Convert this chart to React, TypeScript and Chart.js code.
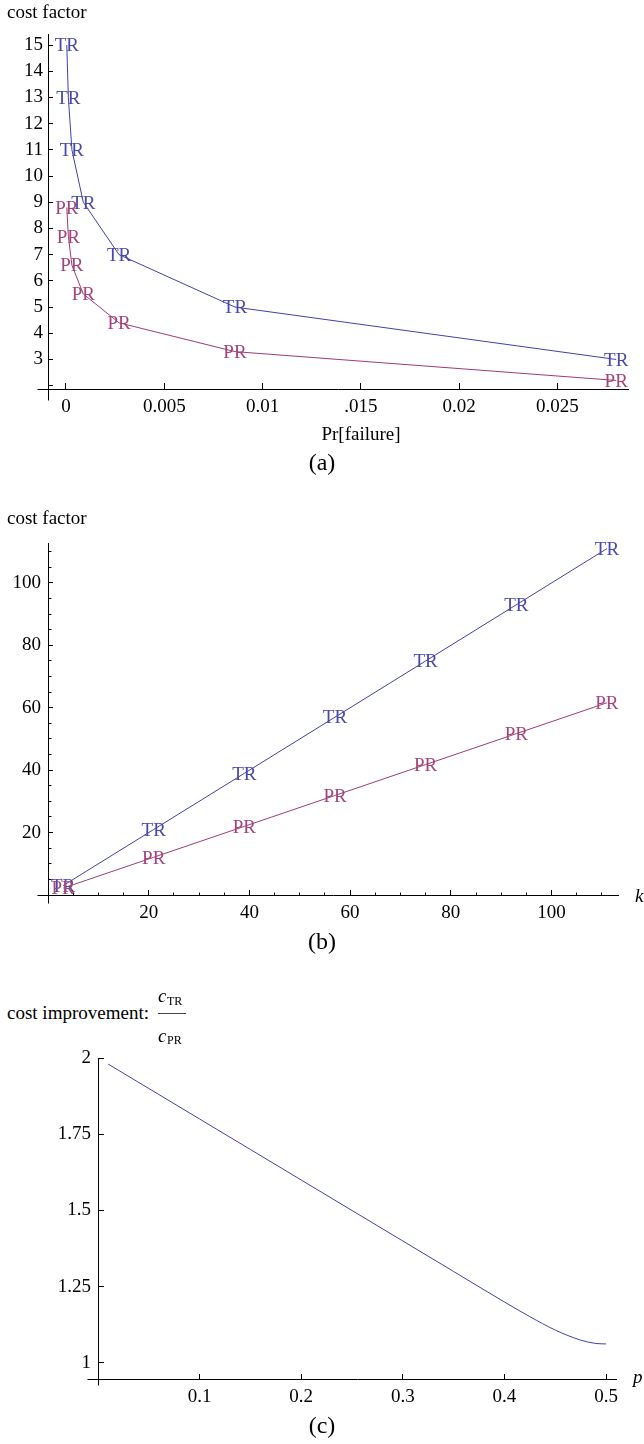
import React, { useEffect, useRef } from "react";
import { Chart, registerables } from "chart.js";

Chart.register(...registerables);

const FONT = "'Liberation Serif', 'Times New Roman', Times, serif";

// ---------- (a) cost factor vs Pr[failure] ----------
const failProb = [0.028, 0.0086, 0.0027, 0.00088, 0.0003, 0.00012, 0.00004];
const costTR_a = [3, 5, 7, 9, 11, 13, 15];
const costPR_a = [2.2, 3.3, 4.4, 5.5, 6.6, 7.7, 8.8];
const xTicksA = [0, 0.005, 0.01, 0.015, 0.02, 0.025];
const xTickLabelsA = ["0", "0.005", "0.01", ".015", "0.02", "0.025"];
const yTicksA = [2, 3, 4, 5, 6, 7, 8, 9, 10, 11, 12, 13, 14, 15];
const yTickLabelsA = ["", "3", "4", "5", "6", "7", "8", "9", "10", "11", "12", "13", "14", "15"];

// ---------- (b) cost factor vs k ----------
const kValues = [3, 21, 39, 57, 75, 93, 111];
const costTR_b = [3, 21, 39, 57, 75, 93, 111];
const costPR_b = [2.2, 12.1, 22, 31.9, 41.8, 51.7, 61.6];
const xTicksB = [20, 40, 60, 80, 100];
const xTickLabelsB = ["20", "40", "60", "80", "100"];
const yTicksB = [20, 40, 60, 80, 100];
const yTickLabelsB = ["20", "40", "60", "80", "100"];
const minorTicksB = [5, 10, 15, 25, 30, 35, 45, 50, 55, 65, 70, 75, 85, 90, 95, 105, 110];

// ---------- (c) cost improvement vs p ----------
const pValues = [0.01, 0.05, 0.1, 0.15, 0.2, 0.25, 0.3, 0.35, 0.4, 0.425, 0.45, 0.475, 0.49, 0.5];
const improvement = [1.98, 1.9, 1.8, 1.7, 1.6, 1.5, 1.4, 1.3, 1.2, 1.152, 1.108, 1.075, 1.064, 1.0625];
const xTicksC = [0.1, 0.2, 0.3, 0.4, 0.5];
const xTickLabelsC = ["0.1", "0.2", "0.3", "0.4", "0.5"];
const yTicksC = [1, 1.25, 1.5, 1.75, 2];
const yTickLabelsC = ["1", "1.25", "1.5", "1.75", "2"];

const TR_LINE = "#4040a8";
const PR_LINE = "#9c3d74";
const TR_TEXT = "#4848ae";
const PR_TEXT = "#a4447c";

type AxisSpec = {
  min: number;
  max: number;
  ticks: number[];
  labels: string[];
  tickLen: number;
  pad: number;
};

const axisExtPlugin = {
  id: "axisExt",
  afterDraw(chart: any, _args: any, opts: any) {
    const { ctx, chartArea } = chart;
    const L = Math.round(chartArea.left - 0.5) + 0.5;
    const B = Math.round(chartArea.bottom - 0.5) + 0.5;
    ctx.save();
    ctx.strokeStyle = "#000";
    ctx.lineWidth = 1;
    ctx.beginPath();
    ctx.moveTo(L - opts.left, B);
    ctx.lineTo(L, B);
    ctx.moveTo(L, B);
    ctx.lineTo(L, B + opts.down);
    ctx.stroke();
    ctx.restore();
  },
};

const minorTickPlugin = {
  id: "minorTicks",
  afterDraw(chart: any, _args: any, opts: any) {
    if (!opts || !opts.x) return;
    const { ctx, chartArea, scales } = chart;
    const L = Math.round(chartArea.left - 0.5) + 0.5;
    const B = Math.round(chartArea.bottom - 0.5) + 0.5;
    ctx.save();
    ctx.strokeStyle = "#000";
    ctx.lineWidth = 1;
    ctx.beginPath();
    opts.x.forEach((v: number) => {
      const px = Math.round(scales.x.getPixelForValue(v) - 0.5) + 0.5;
      ctx.moveTo(px, B);
      ctx.lineTo(px, B - opts.xLen);
    });
    opts.y.forEach((v: number) => {
      const py = Math.round(scales.y.getPixelForValue(v) - 0.5) + 0.5;
      ctx.moveTo(L, py);
      ctx.lineTo(L + opts.yLen, py);
    });
    ctx.stroke();
    ctx.restore();
  },
};

const markTextPlugin = {
  id: "markText",
  afterDatasetsDraw(chart: any, _args: any, opts: any) {
    if (!opts || !opts.texts) return;
    const ctx = chart.ctx;
    chart.data.datasets.forEach((_ds: any, i: number) => {
      const text = opts.texts[i];
      if (!text) return;
      const meta = chart.getDatasetMeta(i);
      ctx.save();
      ctx.font = `19px ${FONT}`;
      ctx.fillStyle = opts.colors[i];
      ctx.textAlign = "center";
      ctx.textBaseline = "alphabetic";
      meta.data.forEach((el: any) => {
        ctx.fillText(text, el.x, el.y + 6.3);
      });
      ctx.restore();
    });
  },
};

function axisOptions(spec: AxisSpec, isX: boolean, size: number) {
  return {
    type: "linear",
    min: spec.min,
    max: spec.max,
    bounds: "data",
    afterBuildTicks: (s: any) => {
      s.ticks = spec.ticks.map((v) => ({ value: v }));
    },
    afterFit: (s: any) => {
      if (isX) s.height = size;
      else s.width = size;
    },
    ticks: {
      autoSkip: false,
      maxRotation: 0,
      minRotation: 0,
      padding: spec.pad,
      color: "#000",
      font: { family: FONT, size: 19 },
      callback: (_v: any, i: number) => spec.labels[i],
    },
    grid: {
      display: true,
      drawOnChartArea: false,
      drawTicks: true,
      tickLength: spec.tickLen,
      tickColor: "#000",
      tickWidth: 1,
    },
    border: { display: true, color: "#000", width: 1 },
  };
}

function makeConfig(p: {
  datasets: any[];
  x: AxisSpec;
  y: AxisSpec;
  padTop: number;
  padRight: number;
  xAxisHeight: number;
  yAxisWidth: number;
  ext: { left: number; down: number };
  minor?: { x: number[]; y: number[]; xLen: number; yLen: number };
  marks?: { texts: string[]; colors: string[] };
}): any {
  return {
    type: "scatter",
    data: { datasets: p.datasets },
    options: {
      responsive: false,
      animation: false,
      events: [],
      layout: { padding: { top: p.padTop, right: p.padRight, bottom: 0, left: 0 } },
      scales: {
        x: axisOptions(p.x, true, p.xAxisHeight),
        y: axisOptions(p.y, false, p.yAxisWidth),
      },
      plugins: {
        legend: { display: false },
        tooltip: { enabled: false },
        title: { display: false },
        axisExt: p.ext,
        minorTicks: p.minor || {},
        markText: p.marks || {},
      },
    },
    plugins: [axisExtPlugin, minorTickPlugin, markTextPlugin],
  };
}

function lineDataset(xs: number[], ys: number[], color: string, extra: any = {}) {
  return {
    data: xs.map((x, i) => ({ x, y: ys[i] })),
    showLine: true,
    borderColor: color,
    backgroundColor: color,
    borderWidth: 1,
    pointRadius: 0,
    tension: 0,
    ...extra,
  };
}

function ChartCanvas({ top, height, config }: { top: number; height: number; config: () => any }) {
  const ref = useRef<HTMLCanvasElement | null>(null);
  useEffect(() => {
    if (!ref.current) return;
    const chart = new Chart(ref.current, config());
    return () => chart.destroy();
  }, []);
  return (
    <canvas
      ref={ref}
      width={644}
      height={height}
      style={{ position: "absolute", left: 0, top, width: 644, height, display: "block" }}
    />
  );
}

function Txt({
  x,
  base,
  size = 19,
  italic = false,
  center = false,
  children,
}: {
  x: number;
  base: number;
  size?: number;
  italic?: boolean;
  center?: boolean;
  children: React.ReactNode;
}) {
  return (
    <div
      style={{
        position: "absolute",
        left: x,
        top: base - size * 0.8375,
        fontFamily: FONT,
        fontSize: size,
        lineHeight: `${size}px`,
        fontStyle: italic ? "italic" : "normal",
        whiteSpace: "nowrap",
        color: "#000",
        transform: center ? "translateX(-50%)" : undefined,
      }}
    >
      {children}
    </div>
  );
}

const configA = () =>
  makeConfig({
    datasets: [
      lineDataset(failProb, costTR_a, TR_LINE),
      lineDataset(failProb, costPR_a, PR_LINE),
    ],
    x: { min: -0.000916, max: 0.0286, ticks: xTicksA, labels: xTickLabelsA, tickLen: -6, pad: 12.6 },
    y: { min: 1.874, max: 15.42, ticks: yTicksA, labels: yTickLabelsA, tickLen: -5, pad: 10 },
    padTop: 34,
    padRight: 16,
    xAxisHeight: 36,
    yAxisWidth: 48,
    ext: { left: 11, down: 11 },
    marks: { texts: ["TR", "PR"], colors: [TR_TEXT, PR_TEXT] },
  });

const configB = () =>
  makeConfig({
    datasets: [
      lineDataset(kValues, costTR_b, TR_LINE),
      lineDataset(kValues, costPR_b, PR_LINE),
    ],
    x: { min: 0, max: 113.2, ticks: xTicksB, labels: xTickLabelsB, tickLen: -5, pad: 11.6 },
    y: { min: 0, max: 112.8, ticks: yTicksB, labels: yTickLabelsB, tickLen: -5, pad: 12 },
    padTop: 63,
    padRight: 26,
    xAxisHeight: 35,
    yAxisWidth: 48,
    ext: { left: 11, down: 8 },
    minor: { x: minorTicksB, y: minorTicksB, xLen: 3, yLen: 3 },
    marks: { texts: ["TR", "PR"], colors: [TR_TEXT, PR_TEXT] },
  });

const configC = () =>
  makeConfig({
    datasets: [
      lineDataset(pValues, improvement, TR_LINE, { cubicInterpolationMode: "monotone" }),
    ],
    x: { min: 0, max: 0.5098, ticks: xTicksC, labels: xTickLabelsC, tickLen: -5, pad: 11.6 },
    y: { min: 0.9475, max: 2.0, ticks: yTicksC, labels: yTickLabelsC, tickLen: -6, pad: 13 },
    padTop: 28,
    padRight: 28,
    xAxisHeight: 41,
    yAxisWidth: 98,
    ext: { left: 11, down: 6 },
  });

export default function App() {
  return (
    <div
      style={{
        position: "absolute",
        left: 0,
        top: 0,
        width: 644,
        height: 1444,
        background: "#fff",
        overflow: "hidden",
      }}
    >
      {/* (a) */}
      <ChartCanvas top={0} height={425} config={configA} />
      <Txt x={7} base={18.3}>cost factor</Txt>
      <Txt x={361} base={440} center>
        Pr[failure]
      </Txt>
      <Txt x={322} base={470.5} size={24} center>
        (a)
      </Txt>

      {/* (b) */}
      <ChartCanvas top={480} height={450} config={configB} />
      <Txt x={7} base={524.3}>cost factor</Txt>
      <Txt x={635} base={902} italic>
        k
      </Txt>
      <Txt x={322} base={949} size={24} center>
        (b)
      </Txt>

      {/* (c) */}
      <ChartCanvas top={1030} height={390} config={configC} />
      <Txt x={7} base={1019}>cost improvement:</Txt>
      <Txt x={158} base={1002} italic>
        c
      </Txt>
      <Txt x={167} base={1005.5} size={12}>
        TR
      </Txt>
      <div
        style={{
          position: "absolute",
          left: 158,
          top: 1013,
          width: 28,
          height: 1,
          background: "#444",
        }}
      />
      <Txt x={158} base={1042} italic>
        c
      </Txt>
      <Txt x={167} base={1044.5} size={12}>
        PR
      </Txt>
      <Txt x={633} base={1382.6} italic>
        p
      </Txt>
      <Txt x={322} base={1433} size={24} center>
        (c)
      </Txt>
    </div>
  );
}
